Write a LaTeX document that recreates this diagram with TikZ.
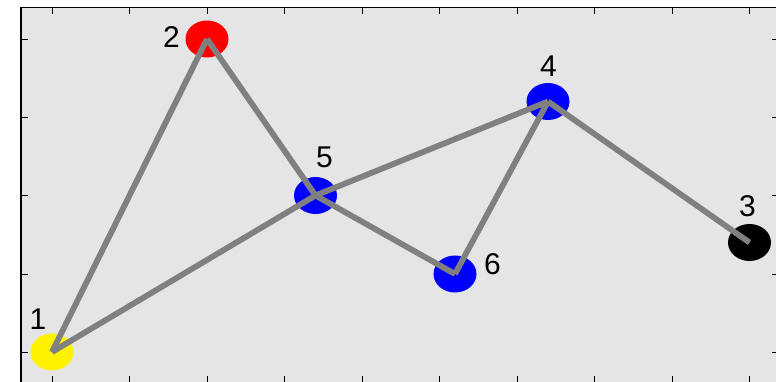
\documentclass[tikz,border=0pt]{standalone}
\usepackage{fontspec}
\setmainfont{Liberation Sans}
\usetikzlibrary{shapes.geometric}
\definecolor{plotbg}{RGB}{229,229,229}
\definecolor{edgegray}{RGB}{128,128,128}
\begin{document}
\begin{tikzpicture}[x=1pt,y=1pt,
  marker/.style={ellipse, minimum width=43pt, minimum height=37pt, inner sep=0pt, draw=none},
  lbl/.style={inner sep=0pt, font=\fontsize{30}{30}\selectfont, text=black},
  edge/.style={draw=edgegray, line width=5.8pt, line cap=butt},
  tick/.style={line width=0.9pt, black}]
\useasboundingbox (0,0) rectangle (776,382);
\fill[white] (0,0) rectangle (776,382);
\fill[plotbg] (21,0) rectangle (776,374.5);
% ticks
\foreach \x in {52,129.5,207,284.5,362,439.5,517,594.5,672,749.5} {
  \draw[tick] (\x,374.5) -- (\x,367.5);
  \draw[tick] (\x,0) -- (\x,5.5);
}
\foreach \y in {343,265,187,108,30} {
  \draw[tick] (21,\y) -- (28,\y);
  \draw[tick] (776,\y) -- (772,\y);
}
\draw[line width=1.3pt, black] (21,0) -- (21,374.5) -- (776,374.5);
% markers
\node[marker, fill=yellow] (n1) at (52,30) {};
\node[marker, fill=red] (n2) at (207,343) {};
\node[marker, fill=blue] (n5) at (315.5,186.5) {};
\node[marker, fill=blue] (n6) at (455,108) {};
\node[marker, fill=blue] (n4) at (548,280.5) {};
\node[marker, fill=black] (n3) at (749.5,139.5) {};
% edges
\draw[edge] (n1.center) -- (n2.center);
\draw[edge] (n2.center) -- (n5.center);
\draw[edge] (n5.center) -- (n6.center);
\draw[edge] (n6.center) -- (n4.center);
\draw[edge] (n4.center) -- (n3.center);
\draw[edge] (n1.center) -- (n5.center);
\draw[edge] (n5.center) -- (n4.center);
% labels
\node[lbl] (l1) at (38,62.5) {1};
\node[lbl] (l2) at (171.5,344.5) {2};
\node[lbl] (l5) at (324.5,225) {5};
\node[lbl] (l6) at (492.5,118) {6};
\node[lbl] (l4) at (548.5,315.5) {4};
\node[lbl] (l3) at (747.5,175.5) {3};
\end{tikzpicture}
\end{document}
